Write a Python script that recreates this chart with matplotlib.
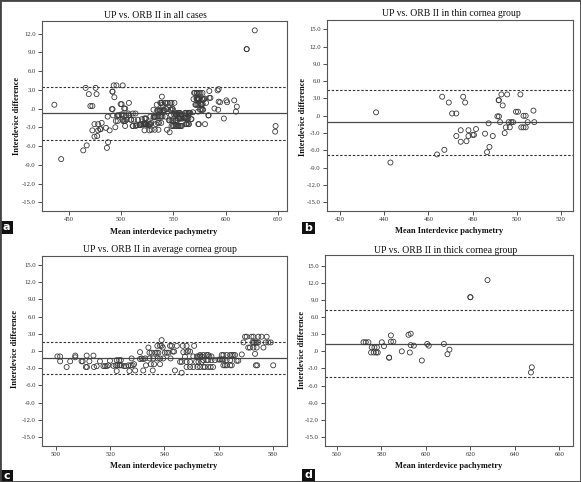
import matplotlib
matplotlib.use("Agg")
import matplotlib.pyplot as plt
from matplotlib.ticker import FuncFormatter
from matplotlib.patches import Rectangle

# ---------------- data ----------------
# thin cornea group (panel b)
thin_x = [436.3, 442.8, 463.9, 467.2, 466.2, 469.2, 470.7, 472.6, 475.7, 476.6,
          472.6, 474.6, 474.6, 477.2, 478.1, 478.1, 480.0, 480.6, 481.5, 485.6,
          487.2, 486.5, 487.6, 489.1, 491.2, 491.9, 491.8, 491.8, 493.0, 495.6,
          493.6, 492.4, 495.0, 496.8, 494.5, 496.3, 497.5, 498.3, 499.6, 500.5,
          501.6, 503.0, 504.0, 502.0, 503.0, 504.0, 504.9, 507.5, 507.9]
thin_y = [0.6, -8.1, -6.7, -5.9, 3.3, 2.3, 0.4, 0.4, 3.3, 2.3,
          -3.5, -2.5, -4.5, -4.4, -2.5, -3.5, -3.3, -3.3, -2.3, -3.1,
          -1.3, -6.3, -5.4, -3.5, -0.1, -0.1, 2.7, 2.7, 3.7, 3.7,
          1.8, -1.1, -2.0, -2.0, -3.0, -1.1, -1.1, -1.1, 0.7, 0.7,
          3.7, 0.0, 0.0, -2.0, -2.0, -2.0, -1.1, 0.9, -1.1]

# average cornea group (panel c)
avg_x = [500.5, 501.5, 501.5, 503.9, 505.2, 507.1, 507.1, 509.4, 509.8, 511.0,
         511.4, 511.3, 512.3, 513.8, 514.0, 515.0, 516.2, 517.5, 518.1, 518.7,
         519.3, 519.9, 521.2, 522.0, 522.6, 523.4, 523.6, 524.2, 522.4, 523.3,
         523.9, 522.4, 525.1, 525.8, 526.7, 527.6, 528.3, 528.8, 527.1, 527.9,
         529.2, 531.0, 531.6, 532.2, 532.9, 531.0, 532.2, 533.2, 534.1, 534.5,
         535.3, 534.5, 535.9, 535.0, 536.2, 535.7, 536.6, 537.2, 537.8, 537.5,
         538.4, 539.6, 537.4, 538.4, 539.0, 539.0, 539.4, 538.4, 540.2, 540.9,
         541.5, 542.1, 542.7, 542.3, 543.1, 543.6, 543.9, 544.6, 545.8, 546.4,
         546.4, 546.8, 548.2, 547.0, 548.2, 547.6, 548.2, 549.5, 548.2, 549.5,
         550.7, 548.8, 549.5, 551.0, 550.7, 552.0, 552.6, 553.2, 553.8, 551.7,
         552.6, 553.8, 552.2, 553.2, 554.4, 555.0, 556.2, 557.1, 558.0, 553.2,
         554.4, 555.6, 556.2, 554.4, 555.6, 556.2, 557.4, 558.7, 556.6, 557.4,
         560.0, 560.6, 561.2, 561.8, 561.2, 561.8, 563.0, 564.3, 564.9, 565.5,
         566.1, 561.8, 562.4, 563.0, 564.3, 564.9, 563.0, 564.3, 566.7, 567.3,
         568.6, 569.8, 570.4, 569.2, 571.0, 571.6, 572.2, 572.9, 572.6, 573.1,
         573.6, 574.1, 574.7, 572.9, 574.1, 573.5, 573.8, 574.3, 574.7, 575.9,
         576.6, 577.8, 577.4, 578.4, 579.3, 580.2]
avg_y = [-0.95, -0.95, -1.8, -2.8, -1.8, -0.8, -1.1, -1.8, -1.8, -2.8,
         -2.8, -0.8, -1.8, -0.8, -2.8, -2.65, -1.8, -2.65, -2.65, -2.65,
         -2.5, -1.7, -2.6, -2.5, -2.5, -2.5, -2.5, -2.5, -1.6, -1.6,
         -1.6, -3.5, -2.65, -2.65, -2.5, -2.5, -2.5, -2.3, -3.5, -1.3,
         -3.4, -1.4, -1.3, -1.4, -1.3, -0.2, -3.4, -2.5, 0.6, -0.3,
         -0.3, -1.3, -1.3, -2.3, -2.3, -3.4, -0.3, -0.3, -0.3, -1.3,
         -1.3, -1.3, 0.9, 0.9, 1.9, 0.9, 0.6, -2.3, -0.3, -0.3,
         -0.3, 0.9, 0.9, -1.3, -0.1, -0.1, -3.4, 0.9, -1.9, -1.9,
         -3.8, 0.9, 0.9, -0.2, -0.2, -1.0, -1.9, -1.9, -2.8, -2.8,
         -2.8, 0.0, -0.1, 0.9, -0.95, -0.95, -0.95, -0.95, -0.95, -1.9,
         -1.9, -1.9, -2.8, -2.8, -2.8, -2.8, -2.8, -2.8, -2.8, -0.7,
         -0.7, -0.7, -0.7, -1.6, -1.6, -1.6, -1.6, -1.6, -0.95, -0.95,
         -1.5, -1.5, -1.5, -1.5, -0.7, -0.7, -0.7, -0.7, -0.7, -0.7,
         -0.7, -2.5, -2.5, -2.5, -2.5, -2.5, -1.6, -1.6, -1.7, -1.7,
         -0.6, 2.5, 2.5, 1.5, 0.6, 0.6, 2.5, 2.5, 1.5, 1.5,
         1.5, 1.5, 1.5, 0.6, 0.6, -0.5, -2.5, -2.5, 2.5, 2.5,
         0.6, 2.5, 1.5, 1.5, 1.5, -2.5]

# thick cornea group (panel d)
thick_x = [627.7, 620.0, 620.0, 572.0, 573.0, 574.2, 575.7, 576.9, 578.0, 575.4,
           576.6, 577.7, 578.4, 580.2, 581.2, 584.3, 584.3, 585.4, 583.5, 583.5,
           589.2, 592.2, 593.2, 593.2, 594.6, 592.8, 598.2, 600.6, 601.3, 608.1,
           610.6, 609.7, 647.6, 647.2]
thick_y = [12.5, 9.5, 9.5, 1.6, 1.6, 1.6, 0.7, 0.7, 0.7, -0.2,
           -0.2, -0.2, -0.2, 1.6, 0.9, 2.8, 1.7, 1.7, -1.1, -1.1,
           0.0, 2.9, 3.1, 1.1, 1.0, -0.2, -1.6, 1.3, 1.0, 1.3,
           0.3, -0.5, -2.8, -3.7]

# mean difference and limits of agreement (mean, upper, lower)
all_limits = [-0.77, 3.5, -5.05]
thin_limits = [-1.15, 4.55, -6.8]
avg_limits = [-1.2, 1.5, -4.05]
thick_limits = [1.3, 7.2, -4.55]

titles = ["UP vs. ORB II in all cases", "UP vs. ORB II in thin cornea group",
          "UP vs. ORB II in average cornea group", "UP vs. ORB II in thick cornea group"]
xlabels = ["Mean interdevice pachymetry", "Mean Interdevice pachymetry",
           "Mean interdevice pachymetry", "Mean interdevice pachymetry"]
ylabel = "Interdevice difference"
panel_letters = ["a", "b", "c", "d"]
xticks_list = [[450, 500, 550, 600, 650], [420, 440, 460, 480, 500, 520],
               [500, 520, 540, 560, 580], [560, 580, 600, 620, 640, 660]]
yticks_a = [12, 9, 6, 3, 0, -3, -6, -9, -12, -15]
yticks_other = [15, 12, 9, 6, 3, 0, -3, -6, -9, -12, -15]

all_x = thin_x + avg_x + thick_x
all_y = thin_y + avg_y + thick_y

# ---------------- layout (pixels) ----------------
W, H = 581, 482
SERIF = ["Liberation Serif", "DejaVu Serif"]

panels = [
    dict(x=all_x, y=all_y, lim=all_limits, rect=(42, 21, 287, 211),
         xlim=(424.5, 658.5), ylim=(-16.4, 14.0), yt=yticks_a,
         title_xy=(155, 15), xl_xy=(164, 232), yl_xy=(17, 116), box=(6.7, 227.5)),
    dict(x=thin_x, y=thin_y, lim=thin_limits, rect=(327, 20, 573, 211),
         xlim=(414.1, 525.4), ylim=(-16.5, 16.6), yt=yticks_other,
         title_xy=(451, 14), xl_xy=(449, 231), yl_xy=(302.7, 116.5), box=(308.3, 228)),
    dict(x=avg_x, y=avg_y, lim=avg_limits, rect=(42, 256, 287, 446),
         xlim=(494.8, 585.3), ylim=(-16.6, 16.6), yt=yticks_other,
         title_xy=(160, 249.5), xl_xy=(163.5, 466), yl_xy=(15, 349), box=(6.7, 476)),
    dict(x=thick_x, y=thick_y, lim=thick_limits, rect=(325, 255, 573, 446),
         xlim=(554.7, 666.1), ylim=(-16.6, 16.9), yt=yticks_other,
         title_xy=(446, 250), xl_xy=(448.5, 466.5), yl_xy=(301.7, 350), box=(308.3, 475.5)),
]


def yfmt(v, pos):
    s = f"{v:.1f}"
    if s in ("0.0", "-0.0"):
        return ".0"
    return s


fig = plt.figure(figsize=(W / 100, H / 100), dpi=100)
fig.patch.set_facecolor("white")

for i, p in enumerate(panels):
    l, t, r, b = p["rect"]
    ax = fig.add_axes([l / W, 1 - b / H, (r - l) / W, (b - t) / H])
    ax.scatter(p["x"], p["y"], s=13, facecolors="none", edgecolors="#3a3a3a",
               linewidths=0.6, zorder=3)
    mean, up, lo = p["lim"]
    ax.axhline(mean, color="#4a4a4a", lw=0.9, zorder=2)
    ax.axhline(up, color="#333333", lw=0.8, ls=(0, (2.2, 1.6)), zorder=2)
    ax.axhline(lo, color="#333333", lw=0.8, ls=(0, (2.2, 1.6)), zorder=2)
    ax.set_xlim(*p["xlim"])
    ax.set_ylim(*p["ylim"])
    ax.set_xticks(xticks_list[i])
    ax.set_yticks(p["yt"])
    ax.yaxis.set_major_formatter(FuncFormatter(yfmt))
    ax.tick_params(axis="both", direction="out", length=3, width=0.6,
                   colors="#333333", labelsize=4.8, pad=1.5)
    for lab in ax.get_xticklabels() + ax.get_yticklabels():
        lab.set_fontfamily(SERIF)
    for sp in ax.spines.values():
        sp.set_color("#555555")
        sp.set_linewidth(0.8)

    tx, ty = p["title_xy"]
    fig.text(tx / W, 1 - ty / H, titles[i], ha="center", va="center",
             fontsize=7.0, family=SERIF, color="#111111")
    xx, xy = p["xl_xy"]
    fig.text(xx / W, 1 - xy / H, xlabels[i], ha="center", va="center",
             fontsize=6.0, family=SERIF, fontweight="bold", color="#111111")
    yx, yy = p["yl_xy"]
    fig.text(yx / W, 1 - yy / H, ylabel, ha="center", va="center", rotation=90,
             fontsize=6.0, family=SERIF, fontweight="bold", color="#111111")

    bx, by = p["box"]
    bw, bh = 12.5, 12.5
    fig.patches.append(Rectangle(((bx - bw / 2) / W, 1 - (by + bh / 2) / H), bw / W, bh / H,
                                 transform=fig.transFigure, facecolor="#111111",
                                 edgecolor="none", zorder=5))
    fig.text(bx / W, 1 - by / H, panel_letters[i], ha="center", va="center",
             fontsize=8, color="white", fontweight="bold", family="DejaVu Sans", zorder=6)

fig.patches.append(Rectangle((0, 0), 1, 1, transform=fig.transFigure, fill=False,
                             edgecolor="#444444", linewidth=2.0, zorder=10))

fig.savefig("out.png", dpi=100, facecolor="white")
